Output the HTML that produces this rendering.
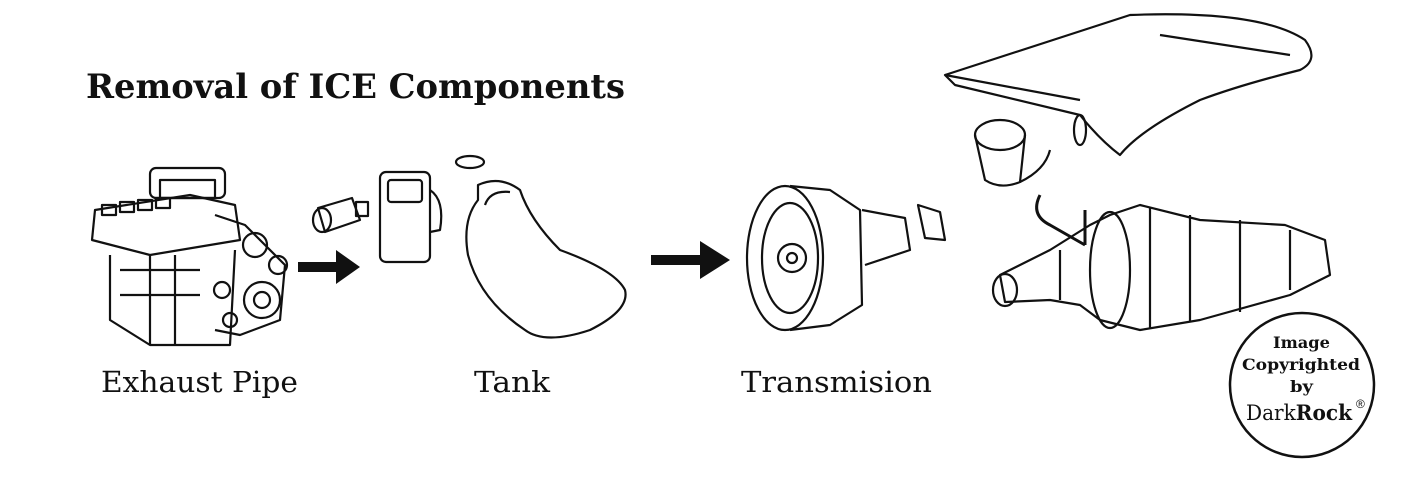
<!DOCTYPE html>
<html><head><meta charset="utf-8"><style>
html,body{margin:0;padding:0;background:#fff}
svg{display:block}
</style></head><body>
<svg width="1408" height="477" viewBox="0 0 1408 477" xmlns="http://www.w3.org/2000/svg">
<rect width="1408" height="477" fill="#fff"/>
<text x="86" y="98" font-family="DejaVu Serif, Liberation Serif, serif" font-weight="bold" font-size="34" fill="#111" textLength="539" lengthAdjust="spacingAndGlyphs">Removal of ICE Components</text>
<g fill="none" stroke="#111" stroke-width="2.2" stroke-linejoin="round">
<rect x="150" y="168" width="75" height="30" rx="6"/>
<rect x="160" y="180" width="55" height="18"/>
<path d="M95 210 L190 195 L235 205 L240 240 L150 255 L92 240 Z"/>
<rect x="102" y="205" width="14" height="10"/><rect x="120" y="202" width="14" height="10"/><rect x="138" y="200" width="14" height="10"/><rect x="156" y="198" width="14" height="10"/>
<path d="M110 255 L110 320 L150 345 L230 345 L235 250"/>
<path d="M120 270 L200 270 M120 295 L200 295 M150 255 L150 345 M175 255 L175 345"/>
<circle cx="262" cy="300" r="18"/><circle cx="262" cy="300" r="8"/>
<circle cx="255" cy="245" r="12"/><circle cx="278" cy="265" r="9"/>
<path d="M215 215 L245 225 L285 265 L280 320 L240 335 L215 330"/>
<circle cx="222" cy="290" r="8"/><circle cx="230" cy="320" r="7"/>
<path d="M318 208 L352 198 L360 220 L325 232 Z"/><ellipse cx="322" cy="220" rx="9" ry="12"/>
<rect x="356" y="202" width="12" height="14"/>
<rect x="380" y="172" width="50" height="90" rx="6"/>
<rect x="388" y="180" width="34" height="22" rx="3"/>
<path d="M430 190 Q445 200 440 230 L430 232"/>
<ellipse cx="470" cy="162" rx="14" ry="6"/>
<path d="M478 185 Q500 175 520 190 Q530 220 560 250 Q615 270 625 290 Q630 310 590 330 Q545 345 525 330 Q480 300 468 255 Q462 220 478 200 Z"/>
<path d="M485 205 Q490 190 510 192"/>
<ellipse cx="785" cy="258" rx="38" ry="72"/>
<ellipse cx="790" cy="258" rx="28" ry="55"/>
<circle cx="792" cy="258" r="14"/><circle cx="792" cy="258" r="5"/>
<path d="M790 186 L830 190 L860 210 L862 305 L830 325 L790 330"/>
<path d="M862 210 L905 218 L910 250 L865 265"/>
<path d="M918 205 L940 212 L945 240 L925 238 Z"/>
<path d="M945 75 L1130 15 Q1260 10 1305 40 Q1320 60 1300 70 Q1240 85 1200 100 Q1140 130 1120 155 Q1100 140 1080 115 L955 85 Z"/>
<path d="M945 75 L1080 100 M1160 35 L1290 55"/>
<ellipse cx="1080" cy="130" rx="6" ry="15"/>
<ellipse cx="1000" cy="135" rx="25" ry="15"/>
<path d="M975 135 L985 180 Q1000 190 1020 182 L1025 135"/>
<path d="M1020 182 Q1045 170 1050 150"/>
<path d="M1000 275 L1050 250 L1090 225 L1110 215 L1140 205 L1200 220 L1285 225 L1325 240 L1330 275 L1290 295 L1200 320 L1140 330 L1100 320 L1080 305 L1050 300 L1005 302 Z"/>
<ellipse cx="1005" cy="290" rx="12" ry="16"/>
<ellipse cx="1110" cy="270" rx="20" ry="58"/>
<path d="M1150 208 L1150 328 M1190 215 L1190 322 M1240 220 L1240 312 M1290 230 L1290 290 M1060 250 L1060 300"/>
<path d="M1040 195 Q1030 215 1050 225 L1085 245 M1085 210 L1085 245" stroke-width="3"/>
</g>
<path d="M298 262 L336 262 L336 250 L360 267 L336 284 L336 272 L298 272 Z" fill="#111"/>
<path d="M651 255 L700 255 L700 241 L730 260 L700 279 L700 265 L651 265 Z" fill="#111"/>
<g font-family="DejaVu Serif, Liberation Serif, serif" font-size="29" fill="#111">
<text x="101" y="392" textLength="197" lengthAdjust="spacingAndGlyphs">Exhaust Pipe</text>
<text x="474" y="392" textLength="76" lengthAdjust="spacingAndGlyphs">Tank</text>
<text x="741" y="392" textLength="191" lengthAdjust="spacingAndGlyphs">Transmision</text>
</g>
<circle cx="1302" cy="385" r="72" fill="#fff" stroke="#111" stroke-width="2.5"/>
<g font-family="DejaVu Serif, Liberation Serif, serif" font-weight="bold" font-size="16" fill="#111">
<text x="1273" y="348" textLength="57" lengthAdjust="spacingAndGlyphs">Image</text>
<text x="1242" y="370" textLength="118" lengthAdjust="spacingAndGlyphs">Copyrighted</text>
<text x="1290" y="392" textLength="23" lengthAdjust="spacingAndGlyphs">by</text>
</g>
<text x="1246" y="420" font-family="DejaVu Serif, Liberation Serif, serif" font-size="21" fill="#111" textLength="106" lengthAdjust="spacingAndGlyphs">Dark<tspan font-weight="bold">Rock</tspan></text>
<text x="1356" y="408" font-family="Liberation Sans, sans-serif" font-size="12" fill="#111">®</text>
</svg>
</body></html>
